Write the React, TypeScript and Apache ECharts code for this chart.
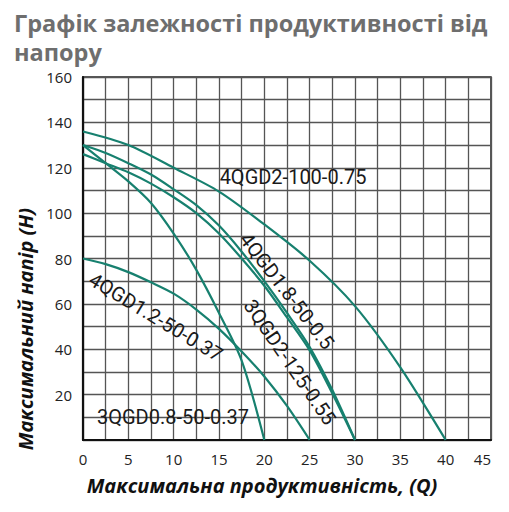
import React, { useEffect, useRef } from "react";
import * as echarts from "echarts";

// Q (productivity) and H (head) values per pump curve
const q4QGD2_100 = [0, 5, 10, 15, 20, 25, 30, 35, 40];
const h4QGD2_100 = [136, 130, 120, 109.5, 95, 79, 59, 32, 0];

const q4QGD18_50 = [0, 2.5, 5, 7.5, 10, 12.5, 15, 17.5, 20, 22.5, 25, 27.5, 30];
const h4QGD18_50 = [130, 126.5, 122, 117, 110.5, 103.5, 94.5, 83, 70, 56, 41, 22, 0];

const q3QGD2_125 = [0, 2.5, 5, 7.5, 10, 12.5, 15, 17.5, 20, 22.5, 25, 27.5, 30];
const h3QGD2_125 = [126, 122, 118, 113, 107, 100, 91, 80, 68, 54, 39.5, 20.5, 0];

const q3QGD08_50 = [0, 2.5, 5, 7.5, 10, 12.5, 15, 17.5, 20];
const h3QGD08_50 = [130, 122, 114, 104.5, 91, 75, 56, 35, 0];

const q4QGD12_50 = [0, 2.5, 5, 7.5, 10, 12.5, 15, 17.5, 20, 22.5, 25];
const h4QGD12_50 = [80, 77.5, 74, 69.5, 64.5, 57.5, 49, 39, 28, 15, 0];

const seriesNames = [
  "4QGD2-100-0.75",
  "4QGD1.8-50-0.5",
  "3QGD2-125-0.55",
  "3QGD0.8-50-0.37",
  "4QGD1.2-50-0.37",
];

const titleLines = ["Графік залежності продуктивності від", "напору"];
const xName = "Максимальна продуктивність, (Q)";
const yName = "Максимальний напір (H)";

const pair = (q: number[], h: number[]) => q.map((v, i) => [v, h[i]]);

const LINE = "#17806f";

export default function App() {
  const ref = useRef<HTMLDivElement>(null);
  useEffect(() => {
    if (!ref.current) return;
    const chart = echarts.init(ref.current, undefined, { renderer: "svg" });
    const curves = [
      pair(q4QGD2_100, h4QGD2_100),
      pair(q4QGD18_50, h4QGD18_50),
      pair(q3QGD2_125, h3QGD2_125),
      pair(q3QGD08_50, h3QGD08_50),
      pair(q4QGD12_50, h4QGD12_50),
    ];
    const labelStyle = {
      fontFamily: "Roboto",
      fontSize: 20,
      fill: "#1a1a1a",
      align: "center",
      verticalAlign: "middle",
    };
    const titleStyle = {
      fontFamily: "Open Sans",
      fontSize: 23.5,
      fontWeight: "bold",
      fill: "#6e6e6e",
      align: "left",
      verticalAlign: "middle",
    };
    const deg = Math.PI / 180;
    chart.setOption({
      animation: false,
      backgroundColor: "#ffffff",
      grid: {
        left: 83,
        right: 18,
        top: 77,
        bottom: 72,
        show: true,
        borderColor: "#222",
        borderWidth: 1.5,
        outerBoundsMode: "none",
      },
      xAxis: {
        type: "value",
        min: 0,
        max: 45,
        interval: 2.5,
        axisLine: { show: true, onZero: false, lineStyle: { color: "#111", width: 2.2 } },
        axisTick: { show: false },
        splitLine: { show: true, lineStyle: { color: "#555", width: 1.3 } },
        axisLabel: {
          margin: 11,
          fontFamily: "Open Sans",
          fontSize: 15,
          color: "#222",
          alignMaxLabel: "right",
          formatter: (v: number) => (v % 5 === 0 ? String(v) : ""),
        },
      },
      yAxis: {
        type: "value",
        min: 0,
        max: 160,
        interval: 10,
        axisLine: { show: true, onZero: false, lineStyle: { color: "#111", width: 2.2 } },
        axisTick: { show: false },
        splitLine: { show: true, lineStyle: { color: "#555", width: 1.3 } },
        axisLabel: {
          margin: 11,
          fontFamily: "Open Sans",
          fontSize: 15,
          color: "#222",
          formatter: (v: number) => (v % 20 === 0 && v !== 0 ? String(v) : ""),
        },
      },
      series: curves.map((d, i) => ({
        name: seriesNames[i],
        type: "line",
        data: d,
        smooth: 0.3,
        showSymbol: false,
        symbol: "none",
        lineStyle: { color: LINE, width: 2.2 },
        z: 3,
      })),
      graphic: [
        {
          type: "text",
          x: 14,
          y: 22.5,
          style: { ...titleStyle, text: titleLines[0] },
        },
        {
          type: "text",
          x: 14,
          y: 51.5,
          style: { ...titleStyle, text: titleLines[1] },
        },
        {
          type: "text",
          x: 293,
          y: 177,
          style: { ...labelStyle, text: seriesNames[0] },
          z: 10,
        },
        {
          type: "text",
          x: 287,
          y: 291,
          rotation: -52.4 * deg,
          style: { ...labelStyle, text: seriesNames[1] },
          z: 10,
        },
        {
          type: "text",
          x: 290,
          y: 362,
          rotation: -55.6 * deg,
          style: { ...labelStyle, text: seriesNames[2] },
          z: 10,
        },
        {
          type: "text",
          x: 173,
          y: 417,
          style: { ...labelStyle, text: seriesNames[3] },
          z: 10,
        },
        {
          type: "text",
          x: 156,
          y: 317,
          rotation: -31.1 * deg,
          style: { ...labelStyle, text: seriesNames[4] },
          z: 10,
        },
        {
          type: "text",
          x: 262,
          y: 485,
          style: {
            text: xName,
            fontFamily: "Open Sans",
            fontSize: 20,
            fontWeight: "bold",
            fontStyle: "italic",
            fill: "#111",
            align: "center",
            verticalAlign: "middle",
          },
        },
        {
          type: "text",
          x: 25,
          y: 329,
          rotation: 90 * deg,
          style: {
            text: yName,
            fontFamily: "Open Sans",
            fontSize: 20,
            fontWeight: "bold",
            fontStyle: "italic",
            fill: "#111",
            align: "center",
            verticalAlign: "middle",
          },
        },
      ],
    });
    return () => chart.dispose();
  }, []);
  return (
    <div
      ref={ref}
      style={{ position: "fixed", left: 0, top: 0, width: 509, height: 512 }}
    />
  );
}
